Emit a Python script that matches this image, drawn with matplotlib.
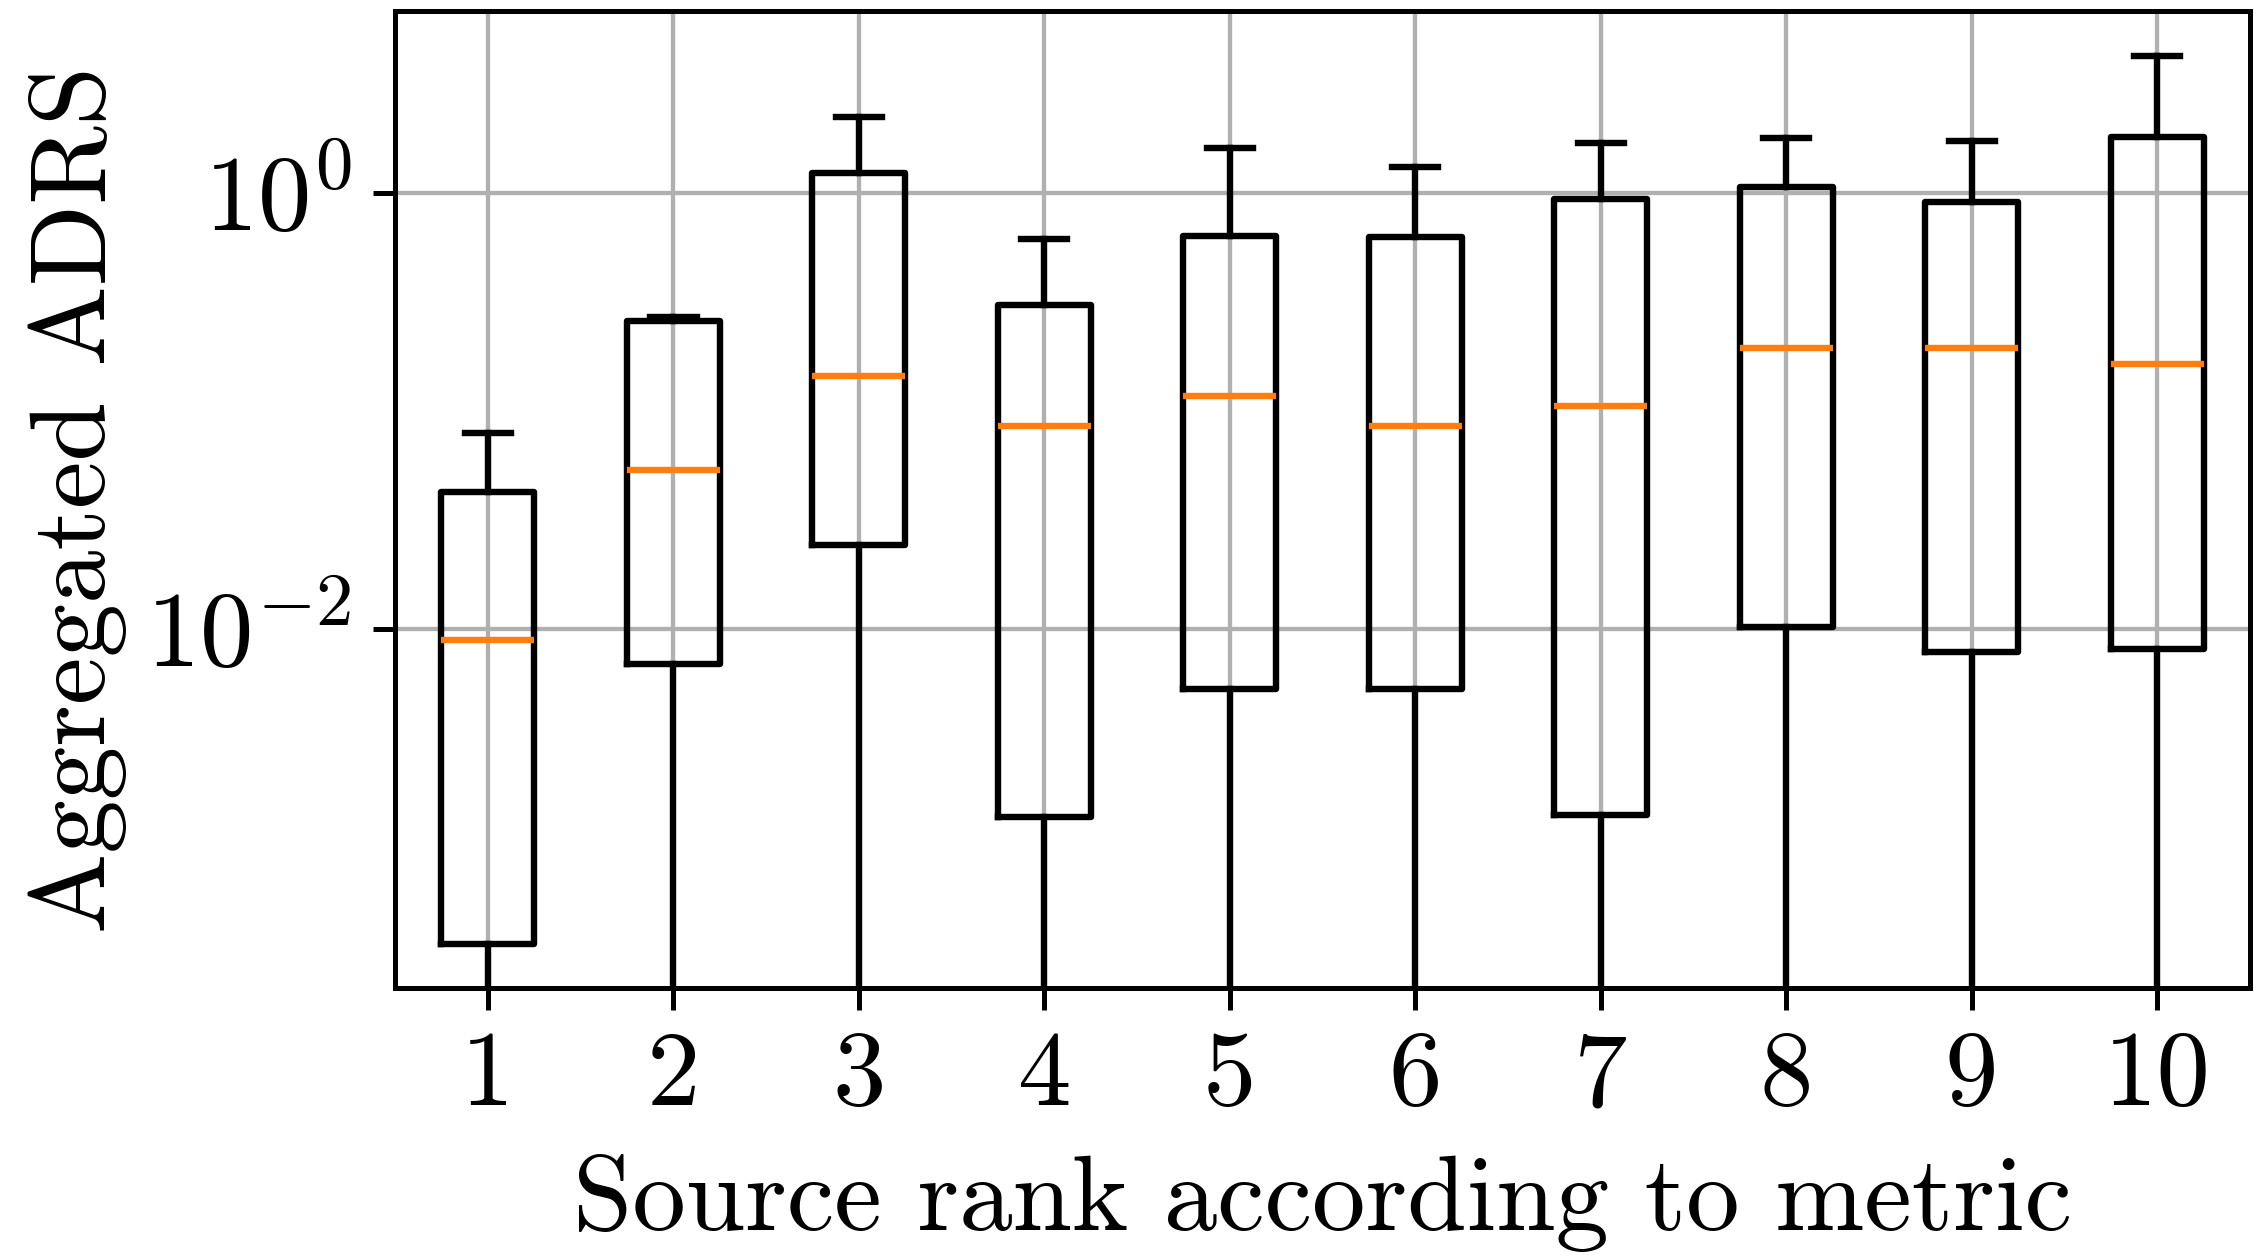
import matplotlib
matplotlib.use("Agg")
import matplotlib.pyplot as plt

plt.rcParams['font.family'] = 'cmr10'
plt.rcParams['mathtext.fontset'] = 'cm'
plt.rcParams['axes.formatter.use_mathtext'] = True

# values (log scale)
ranks = [1, 2, 3, 4, 5, 6, 7, 8, 9, 10]
whisker_high = [0.079, 0.27, 2.24, 0.615, 1.60, 1.31, 1.70, 1.78, 1.73, 4.24]
q3 = [0.0424, 0.259, 1.237, 0.306, 0.634, 0.624, 0.94, 1.06, 0.912, 1.81]
medians = [0.00886, 0.0532, 0.145, 0.0853, 0.117, 0.0853, 0.105, 0.194, 0.194, 0.164]
q1 = [3.58e-4, 0.00684, 0.0241, 0.00137, 0.00528, 0.00528, 0.00139, 0.0102, 0.00784, 0.00809]
whisker_low = [1e-5] * 10  # below the visible range

stats = []
for i in range(len(ranks)):
    stats.append({'label': str(ranks[i]), 'whislo': whisker_low[i], 'q1': q1[i],
                  'med': medians[i], 'q3': q3[i], 'whishi': whisker_high[i]})

fig = plt.figure(figsize=(22.54, 12.6), dpi=100)
ax = fig.add_axes([0.1753, 0.2159, 0.8229, 0.7750])

lw = 4.6
ax.bxp(stats, positions=ranks, widths=0.5, showfliers=False,
       boxprops=dict(linewidth=lw, color='black'),
       whiskerprops=dict(linewidth=lw, color='black'),
       capprops=dict(linewidth=lw, color='black'),
       medianprops=dict(linewidth=lw, color='#ff7f0e'))

ax.set_yscale('log')
ax.set_ylim(2.24e-4, 6.8)
ax.set_xlim(0.5, 10.5)
ax.set_yticks([1e-2, 1e0])
ax.yaxis.set_minor_locator(matplotlib.ticker.NullLocator())
ax.grid(True, color='#b0b0b0', linewidth=3.1)
ax.set_axisbelow(True)

for s in ax.spines.values():
    s.set_linewidth(3.6)
ax.tick_params(axis='both', which='major', labelsize=77, length=16, width=3.6, pad=15)

ax.set_xlabel('Source rank according to metric', fontsize=77, labelpad=20)
ax.set_ylabel('Aggregated ADRS', fontsize=77, labelpad=14)

fig.savefig('out.png', dpi=100)
